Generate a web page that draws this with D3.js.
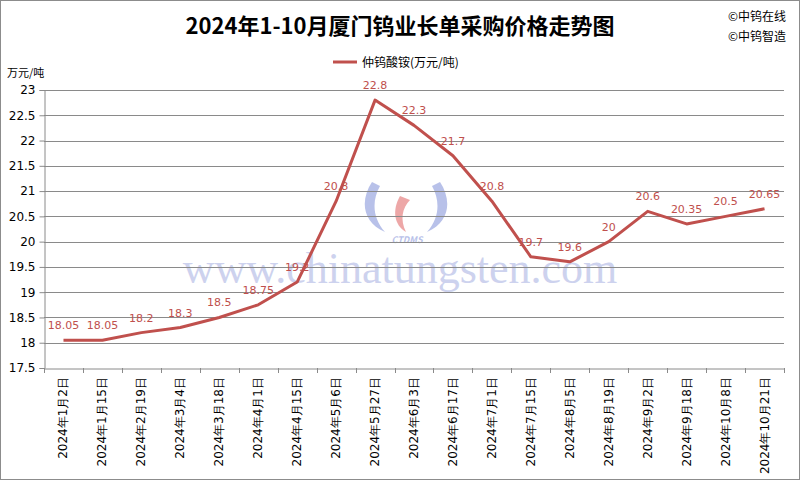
<!DOCTYPE html>
<html><head><meta charset="utf-8">
<script src="https://cdn.jsdelivr.net/npm/d3@7/dist/d3.min.js"></script>
<style>body{margin:0;background:#fff}svg{display:block}</style>
</head><body><svg id="c" width="800" height="480"></svg>
<script>
const categories = ["2024年1月2日","2024年1月15日","2024年2月19日","2024年3月4日","2024年3月18日","2024年4月1日","2024年4月15日","2024年5月6日","2024年5月27日","2024年6月3日","2024年6月17日","2024年7月1日","2024年7月15日","2024年8月5日","2024年8月19日","2024年9月2日","2024年9月18日","2024年10月8日","2024年10月21日"];
const values = [18.05,18.05,18.2,18.3,18.5,18.75,19.2,20.8,22.8,22.3,21.7,20.8,19.7,19.6,20,20.6,20.35,20.5,20.65];
const valueLabels = ["18.05","18.05","18.2","18.3","18.5","18.75","19.2","20.8","22.8","22.3","21.7","20.8","19.7","19.6","20","20.6","20.35","20.5","20.65"];
const yTicks = [17.5,18,18.5,19,19.5,20,20.5,21,21.5,22,22.5,23];
const seriesName = "仲钨酸铵(万元/吨)";
const title = "2024年1-10月厦门钨业长单采购价格走势图";

const svg = d3.select("#c");
const font = "'Noto Sans CJK SC', 'Liberation Sans', sans-serif";
const red = "#c0504d";
svg.append("rect").attr("x",0.5).attr("y",0.5).attr("width",799).attr("height",479).attr("fill","#fff").attr("stroke","#8c8c8c");

const L=44, R=784, T=90, B=368;
const x = d3.scaleBand().domain(categories).range([L,R]);
const y = d3.scaleLinear().domain([17.5,23]).range([B,T]);

// watermark
svg.append("text").attr("x",400).attr("y",283).attr("text-anchor","middle")
  .attr("font-family","'Liberation Serif', serif").attr("font-size",44).attr("fill","#cdd2ee")
  .text("www.chinatungsten.com");
const wm = svg.append("g").attr("opacity",0.55);
wm.append("path").attr("d","M372,182 C360,200 362,222 385,232 C372,218 372,200 380,186 Z").attr("fill","#7f8fd8");
wm.append("path").attr("d","M440,182 C452,200 450,222 427,232 C440,218 440,200 432,186 Z").attr("fill","#7f8fd8");
wm.append("path").attr("d","M400,196 C392,210 394,225 406,232 C400,220 402,208 410,200 Z").attr("fill","#e06060");
wm.append("text").attr("x",407).attr("y",243).attr("text-anchor","middle").attr("font-family",font)
  .attr("font-size",9).attr("font-style","italic").attr("font-weight","bold").attr("fill","#7f8fd8").text("CTDMS");

// gridlines
svg.append("g").selectAll("line").data(yTicks.slice(1)).join("line")
  .attr("x1",L).attr("x2",R).attr("y1",d=>Math.round(y(d))+0.5).attr("y2",d=>Math.round(y(d))+0.5)
  .attr("stroke","#8a8a8a").attr("stroke-width",1);

// y axis
const ya = svg.append("g").attr("transform",`translate(${L+0.5},0)`)
  .call(d3.axisLeft(y).tickValues(yTicks).tickSize(5).tickFormat(d=>String(d)));
ya.select(".domain").attr("stroke","#8a8a8a");
ya.selectAll(".tick line").attr("stroke","#8a8a8a");
ya.selectAll("text").attr("font-family","'DejaVu Sans', sans-serif").attr("font-size",12).attr("fill","#000").attr("dx","-1");

// x axis
const xa = svg.append("g").attr("transform",`translate(0,${B+0.5})`)
  .call(d3.axisBottom(x).tickSize(0).tickFormat(""));
xa.select(".domain").attr("stroke","#8a8a8a");
svg.append("g").selectAll("line").data(d3.range(categories.length+1)).join("line")
  .attr("x1",i=>Math.round(L+i*x.step())+0.5).attr("x2",i=>Math.round(L+i*x.step())+0.5)
  .attr("y1",B).attr("y2",B+5).attr("stroke","#8a8a8a");
svg.append("g").selectAll("text").data(categories).join("text")
  .attr("transform",d=>`translate(${x(d)+x.bandwidth()/2+4},${B+9}) rotate(-90)`)
  .attr("text-anchor","end").attr("font-family","'DejaVu Sans', sans-serif").attr("font-size",12).attr("fill","#000")
  .text(d=>d);

// line
const line = d3.line().x((d,i)=>x(categories[i])+x.bandwidth()/2).y(d=>y(d));
svg.append("path").datum(values).attr("d",line).attr("fill","none").attr("stroke",red).attr("stroke-width",3).attr("stroke-linejoin","round");

// value labels
svg.append("g").selectAll("text").data(values).join("text")
  .attr("x",(d,i)=>x(categories[i])+x.bandwidth()/2).attr("y",d=>y(d)-11)
  .attr("text-anchor","middle").attr("font-family","'DejaVu Sans', sans-serif").attr("font-size",11).attr("fill",red)
  .text((d,i)=>valueLabels[i]);

// title
svg.append("text").attr("x",400).attr("y",34).attr("text-anchor","middle").attr("font-family",font)
  .attr("font-weight","bold").attr("font-size",22).attr("fill","#000").text(title);
svg.append("text").attr("x",728).attr("y",21).attr("font-family",font).attr("font-size",12).text("©中钨在线");
svg.append("text").attr("x",728).attr("y",41).attr("font-family",font).attr("font-size",12).text("©中钨智造");

// legend
svg.append("line").attr("x1",333).attr("x2",357).attr("y1",62).attr("y2",62).attr("stroke",red).attr("stroke-width",3);
svg.append("text").attr("x",362).attr("y",67).attr("font-family",font).attr("font-size",12).text(seriesName);

// unit
svg.append("text").attr("x",7).attr("y",77).attr("font-family",font).attr("font-size",11).text("万元/吨");
</script></body></html>
